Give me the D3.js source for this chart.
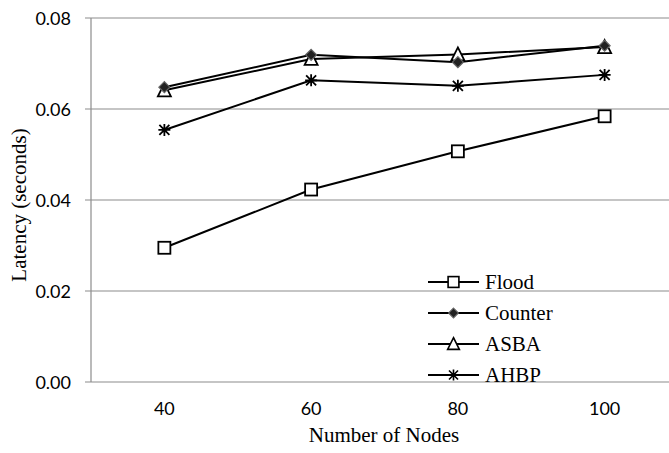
<!DOCTYPE html>
<html lang="en">
<head>
    <meta charset="UTF-8">
    <title>Latency</title>
    <script src="https://cdn.jsdelivr.net/npm/d3@7/dist/d3.min.js"></script>
</head>
<style>
    body { margin: 0; background: #fff; }
</style>
<body>
</body>
</html>
<script>

    var nodes = ["40", "60", "80", "100"];
    var yTicks = [0, 0.02, 0.04, 0.06, 0.08];

    var flood   = [0.0295, 0.0423, 0.0507, 0.0584];
    var counter = [0.0648, 0.0719, 0.0703, 0.0739];
    var asba    = [0.0641, 0.0710, 0.0720, 0.0736];
    var ahbp    = [0.0554, 0.0663, 0.0651, 0.0675];

    var seriesNames = ["Flood", "Counter", "ASBA", "AHBP"];
    var seriesValues = [flood, counter, asba, ahbp];
    var drawOrder = [0, 2, 1, 3];   // diamonds sit on top of the triangles

    var w = 669;
    var h = 453;
    // plot area (note: "top" is reserved on window, so use other names)
    var plotL = 91, plotT = 18, plotR = 678, plotB = 382;

    var svg = d3.select("body")
            .append("svg")
            .attr("width", w)
            .attr("height", h);

    var x = d3.scalePoint().domain(nodes).range([plotL, plotR]).padding(0.5);
    var y = d3.scaleLinear().domain([0, 0.08]).range([plotB, plotT]);

    // gridlines
    svg.selectAll("line.grid")
            .data(yTicks)
            .enter()
            .append("line")
            .attr("class", "grid")
            .attr("x1", plotL - 6)
            .attr("x2", w)
            .attr("y1", function (d) { return y(d); })
            .attr("y2", function (d) { return y(d); })
            .attr("stroke", "#8c8c8c")
            .attr("stroke-width", 1.2);

    // y axis line
    svg.append("line")
            .attr("x1", plotL).attr("x2", plotL)
            .attr("y1", plotT).attr("y2", plotB)
            .attr("stroke", "#8c8c8c")
            .attr("stroke-width", 1.2);

    // y tick labels
    svg.selectAll("text.ytick")
            .data(yTicks)
            .enter()
            .append("text")
            .attr("class", "ytick")
            .text(function (d) { return d3.format(".2f")(d); })
            .attr("x", 71)
            .attr("y", function (d) { return y(d) + 6.5; })
            .attr("text-anchor", "end")
            .attr("font-family", "Lato, 'Open Sans', sans-serif")
            .attr("font-size", "18px")
            .attr("fill", "#000");

    // x tick labels
    svg.selectAll("text.xtick")
            .data(nodes)
            .enter()
            .append("text")
            .attr("class", "xtick")
            .text(function (d) { return d; })
            .attr("x", function (d) { return x(d); })
            .attr("y", 415)
            .attr("text-anchor", "middle")
            .attr("font-family", "Lato, 'Open Sans', sans-serif")
            .attr("font-size", "18px")
            .attr("fill", "#000");

    svg.append("text")
            .text("Number of Nodes")
            .attr("x", 384)
            .attr("y", 442)
            .attr("text-anchor", "middle")
            .attr("font-family", "'Liberation Serif', serif")
            .attr("font-size", "21px");

    svg.append("text")
            .text("Latency (seconds)")
            .attr("transform", "translate(26,205) rotate(-90)")
            .attr("text-anchor", "middle")
            .attr("font-family", "'Liberation Serif', serif")
            .attr("font-size", "21px");

    // marker drawing
    function drawMarker(g, name) {
        if (name === "Flood") {
            g.append("rect").attr("x", -6).attr("y", -6).attr("width", 12).attr("height", 12)
                    .attr("fill", "#fff").attr("stroke", "#000").attr("stroke-width", 1.8);
        } else if (name === "Counter") {
            g.append("path").attr("d", "M0,-5.5L5.5,0L0,5.5L-5.5,0Z")
                    .attr("fill", "#222").attr("stroke", "#666").attr("stroke-width", 1.2);
        } else if (name === "ASBA") {
            g.append("path").attr("d", "M0,-7L6.5,6L-6.5,6Z")
                    .attr("fill", "#fff").attr("stroke", "#000").attr("stroke-width", 1.8);
        } else {
            g.append("path").attr("d", "M-6,0L6,0M0,-6L0,6M-5,-5L5,5M-5,5L5,-5")
                    .attr("fill", "none").attr("stroke", "#000").attr("stroke-width", 1.8);
        }
    }

    var line = d3.line()
            .x(function (d, i) { return x(nodes[i]); })
            .y(function (d) { return y(d); });

    drawOrder.forEach(function (k) {
        var name = seriesNames[k];
        var vals = seriesValues[k];
        svg.append("path")
                .attr("d", line(vals))
                .attr("fill", "none")
                .attr("stroke", "#000")
                .attr("stroke-width", 2);
        vals.forEach(function (v, i) {
            var g = svg.append("g").attr("transform", "translate(" + x(nodes[i]) + "," + y(v) + ")");
            drawMarker(g, name);
        });
    });

    // legend
    var legend = svg.append("g").attr("transform", "translate(428,282)");
    seriesNames.forEach(function (name, k) {
        var row = legend.append("g").attr("transform", "translate(0," + (k * 31) + ")");
        row.append("line").attr("x1", 0).attr("x2", 51).attr("y1", 0).attr("y2", 0)
                .attr("stroke", "#000").attr("stroke-width", 2);
        var m = row.append("g").attr("transform", "translate(25.5,0) scale(0.9)");
        drawMarker(m, name);
        row.append("text")
                .text(name)
                .attr("x", 57)
                .attr("y", 7)
                .attr("font-family", "'Liberation Serif', serif")
                .attr("font-size", "21px");
    });
</script>
